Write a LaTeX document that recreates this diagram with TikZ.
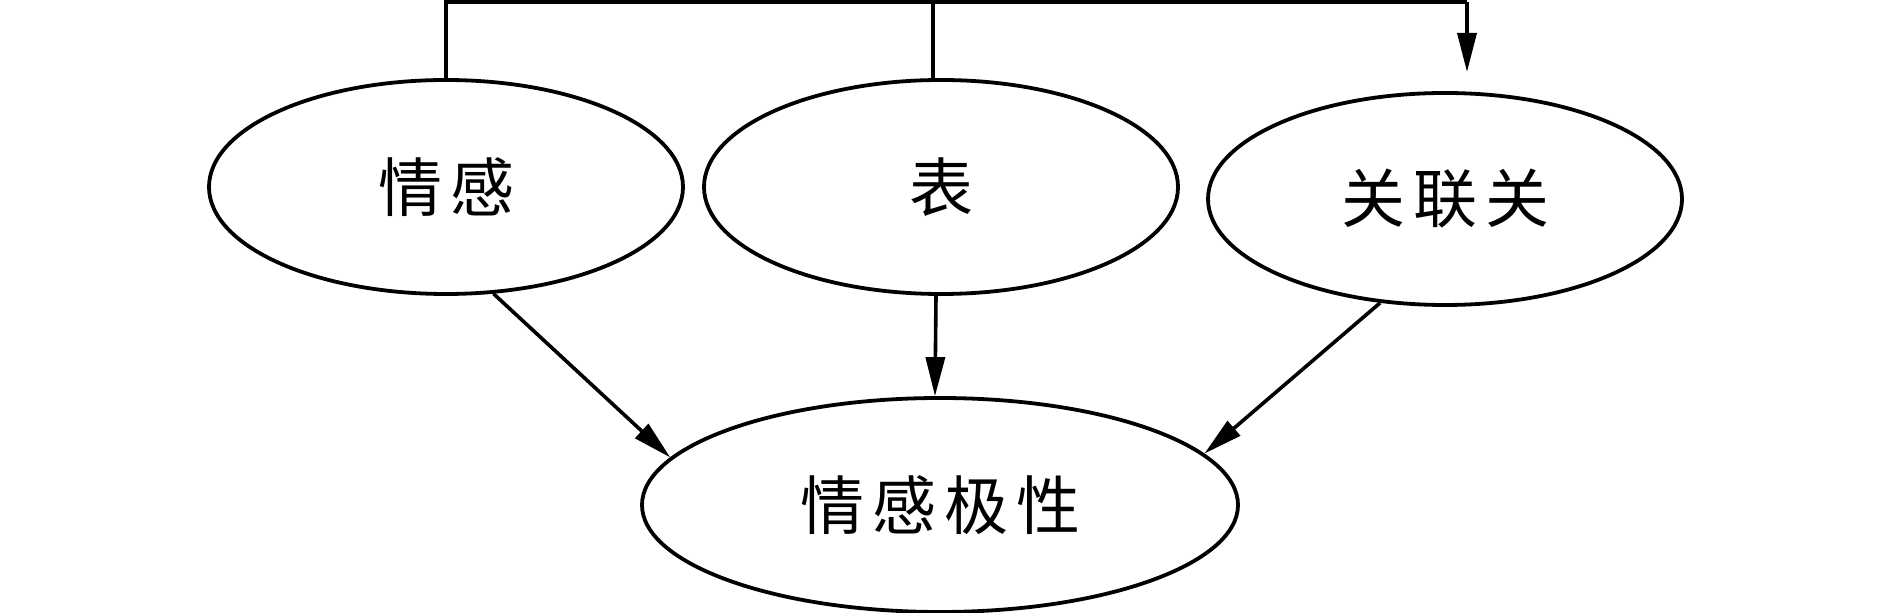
\documentclass[tikz,border=0pt]{standalone}
\usepackage{fontspec}
\newfontfamily\cjk{Noto Sans CJK SC}
\usetikzlibrary{shapes.geometric,arrows.meta,calc}
\tikzset{
  ell/.style={ellipse, draw, line width=1.9pt, inner sep=0pt,
    font=\cjk\fontsize{32pt}{36pt}\selectfont},
  conn/.style={line width=1.8pt},
  arr/.style={conn, -{Triangle[length=19.5pt,width=9.5pt]}}
}
\newcommand{\gapc}{\hspace{4pt}}
\begin{document}
\begin{tikzpicture}[x=0.5pt,y=-0.5pt]
\useasboundingbox (0,0) rectangle (1890,613);
\node[ell, minimum width=237pt, minimum height=107pt] (e1) at (446,187) {情\gapc 感};
\node[ell, minimum width=237pt, minimum height=107pt] (e2) at (941,187) {表};
\node[ell, minimum width=237pt, minimum height=106pt] (e3) at (1445,199) {关\gapc 联\gapc 关};
\node[ell, minimum width=298pt, minimum height=107pt] (e4) at (940,505) {情\gapc 感\gapc 极\gapc 性};
\coordinate (t2) at (933,2);
\coordinate (t3) at (1467,2);
\coordinate (a3) at (1467,72);
\draw[conn, line width=2.4pt] (e1.north) |- (t3);
\draw[conn] (t2) -- (t2 |- e2.north);
\draw[arr] (t3) -- (a3);
\draw[arr] (e1.-66) -- (e4.170);
\draw[arr] ($(e2.south)+(-5,0)$) -- ($(e4.north)+(-5,0)$);
\draw[arr] (e3.-122.5) -- (e4.11);
\end{tikzpicture}
\end{document}
